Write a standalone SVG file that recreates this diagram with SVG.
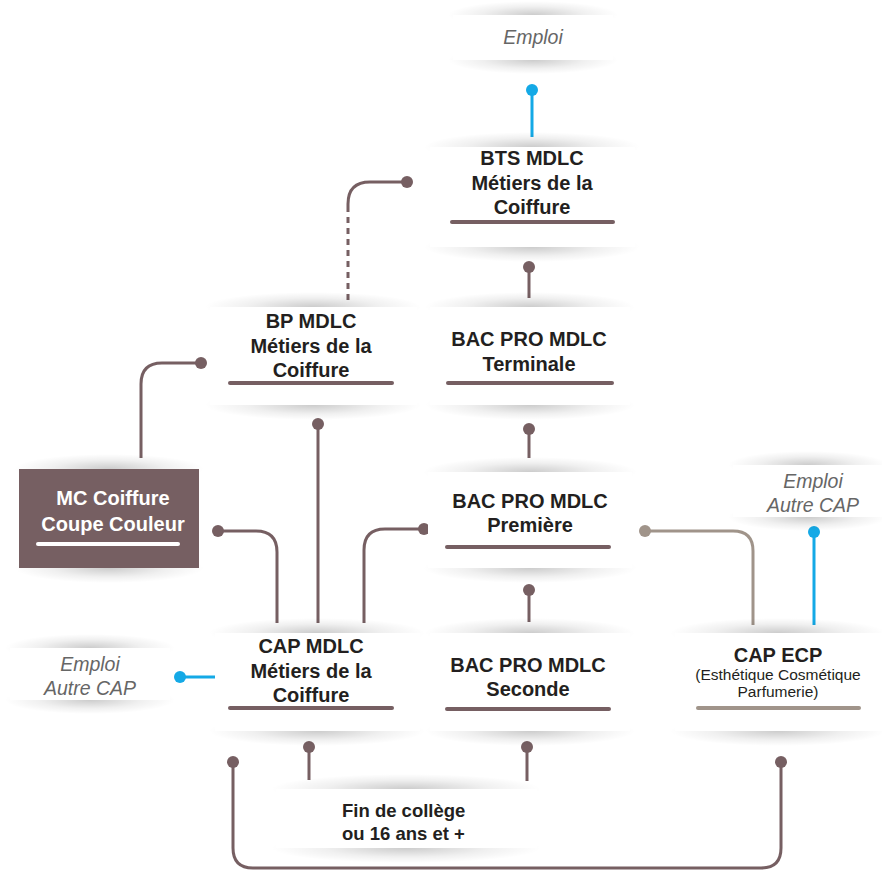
<svg xmlns="http://www.w3.org/2000/svg" width="882" height="872" viewBox="0 0 882 872">
<defs>
<radialGradient id="sh" cx="50%" cy="50%" r="50%">
<stop offset="0" stop-color="#000" stop-opacity="0.2"/>
<stop offset="0.6" stop-color="#000" stop-opacity="0.06"/>
<stop offset="1" stop-color="#000" stop-opacity="0"/>
</radialGradient>
<style>
.card{fill:#fff}
.t{font-family:"Liberation Sans",Arial,sans-serif;font-weight:bold;font-size:20px;fill:#231f20;text-anchor:middle}
.w{fill:#fff}
.e{font-family:"Liberation Sans",Arial,sans-serif;font-style:italic;font-size:19.5px;fill:#666;text-anchor:middle}
.s{font-family:"Liberation Sans",Arial,sans-serif;font-size:15.5px;fill:#231f20;text-anchor:middle}
.ul{stroke:#765f62;stroke-width:4;stroke-linecap:round}
.c{fill:none;stroke:#765f62;stroke-width:3}
.cb{fill:none;stroke:#14a9e6;stroke-width:3}
.cg{fill:none;stroke:#a0948a;stroke-width:3}
.d{fill:#765f62}
.db{fill:#14a9e6}
.dg{fill:#a0948a}
</style>
</defs>

<g id="connectors">
<path class="cb" d="M532,90 V137"/><circle class="db" cx="532" cy="90" r="6"/>
<path class="c" d="M348,300 V207" stroke-dasharray="6,5"/>
<path class="c" d="M348,207 V204 Q348,182 370,182 H407"/><circle class="d" cx="407" cy="182" r="6"/>
<path class="c" d="M529,267 V298"/><circle class="d" cx="529" cy="267" r="6"/>
<path class="c" d="M201,363 H162 Q141,363 141,384 V458"/><circle class="d" cx="201" cy="363" r="6"/>
<path class="c" d="M318,424 V623"/><circle class="d" cx="318" cy="424" r="6"/>
<path class="c" d="M529,429 V458"/><circle class="d" cx="529" cy="429" r="6"/>
<path class="c" d="M218,531 H256 Q277,531 277,552 V623"/><circle class="d" cx="218" cy="531" r="6"/>
<path class="c" d="M424,529 H385 Q364,529 364,550 V623"/><circle class="d" cx="424" cy="529" r="6"/>
<path class="c" d="M529,590 V622"/><circle class="d" cx="529" cy="590" r="6"/>
<path class="cg" d="M645,531 H733 Q753,531 753,551 V625"/><circle class="dg" cx="645" cy="531" r="6"/>
<path class="cb" d="M814,532 V625"/><circle class="db" cx="814" cy="532" r="6"/>
<path class="cb" d="M180,677 H215"/><circle class="db" cx="180" cy="677" r="6"/>
<path class="c" d="M309,747 V780"/><circle class="d" cx="309" cy="747" r="6"/>
<path class="c" d="M527,747 V781"/><circle class="d" cx="527" cy="747" r="6"/>
<path class="c" d="M233,762 V848 Q233,868 253,868 H761 Q781,868 781,848 V762"/>
<circle class="d" cx="233" cy="762" r="6"/><circle class="d" cx="781" cy="762" r="6"/>
</g>

<g id="emploi-top">
<ellipse cx="533" cy="15" rx="85" ry="14" fill="url(#sh)"/><ellipse cx="533" cy="60" rx="85" ry="14" fill="url(#sh)"/>
<rect class="card" x="453" y="15" width="160" height="45"/>
<text class="e" x="533" y="44">Emploi</text>
</g>

<g id="bts">
<ellipse cx="532" cy="147" rx="108" ry="15" fill="url(#sh)"/><ellipse cx="532" cy="247" rx="108" ry="15" fill="url(#sh)"/>
<rect class="card" x="430" y="147" width="205" height="100"/>
<text class="t" x="532" y="165">BTS MDLC</text>
<text class="t" x="532" y="189.5">Métiers de la</text>
<text class="t" x="532" y="214">Coiffure</text>
<line class="ul" x1="452" y1="222" x2="613" y2="222"/>
</g>

<g id="bp">
<ellipse cx="313" cy="307" rx="108" ry="15" fill="url(#sh)"/><ellipse cx="313" cy="405" rx="108" ry="15" fill="url(#sh)"/>
<rect class="card" x="210" y="307" width="207" height="98"/>
<text class="t" x="311" y="328">BP MDLC</text>
<text class="t" x="311" y="352.5">Métiers de la</text>
<text class="t" x="311" y="377">Coiffure</text>
<line class="ul" x1="230" y1="383" x2="392" y2="383"/>
</g>

<g id="bac-terminale">
<ellipse cx="530" cy="307" rx="105" ry="15" fill="url(#sh)"/><ellipse cx="530" cy="405" rx="105" ry="15" fill="url(#sh)"/>
<rect class="card" x="430" y="307" width="200" height="98"/>
<text class="t" x="529" y="346">BAC PRO MDLC</text>
<text class="t" x="529" y="371">Terminale</text>
<line class="ul" x1="448" y1="383" x2="612" y2="383"/>
</g>

<g id="mc">
<ellipse cx="109" cy="469" rx="95" ry="15" fill="url(#sh)"/><ellipse cx="109" cy="568" rx="95" ry="15" fill="url(#sh)"/>
<rect x="19" y="469" width="180" height="99" fill="#765f62"/>
<text class="t w" x="113" y="505">MC Coiffure</text>
<text class="t w" x="113" y="531">Coupe Couleur</text>
<line x1="38" y1="544" x2="178" y2="544" stroke="#fff" stroke-width="4" stroke-linecap="round"/>
</g>

<g id="bac-premiere">
<ellipse cx="530" cy="472" rx="107" ry="15" fill="url(#sh)"/><ellipse cx="530" cy="568" rx="107" ry="15" fill="url(#sh)"/>
<rect class="card" x="428" y="472" width="204" height="96"/>
<text class="t" x="530" y="508">BAC PRO MDLC</text>
<text class="t" x="530" y="532">Première</text>
<line class="ul" x1="447" y1="547" x2="609" y2="547"/>
</g>

<g id="emploi-right">
<ellipse cx="808" cy="465" rx="80" ry="14" fill="url(#sh)"/><ellipse cx="808" cy="517" rx="80" ry="14" fill="url(#sh)"/>
<rect class="card" x="733" y="465" width="149" height="52"/>
<text class="e" x="813" y="488">Emploi</text>
<text class="e" x="813" y="512">Autre CAP</text>
</g>

<g id="emploi-left">
<ellipse cx="90" cy="648" rx="85" ry="14" fill="url(#sh)"/><ellipse cx="90" cy="700" rx="85" ry="14" fill="url(#sh)"/>
<rect class="card" x="10" y="648" width="160" height="52"/>
<text class="e" x="90" y="671">Emploi</text>
<text class="e" x="90" y="695">Autre CAP</text>
</g>

<g id="cap-mdlc">
<ellipse cx="317" cy="633" rx="108" ry="15" fill="url(#sh)"/><ellipse cx="317" cy="731" rx="108" ry="15" fill="url(#sh)"/>
<rect class="card" x="215" y="633" width="205" height="98"/>
<text class="t" x="311" y="653">CAP MDLC</text>
<text class="t" x="311" y="677.5">Métiers de la</text>
<text class="t" x="311" y="702">Coiffure</text>
<line class="ul" x1="230" y1="708" x2="392" y2="708"/>
</g>

<g id="bac-seconde">
<ellipse cx="530" cy="633" rx="105" ry="15" fill="url(#sh)"/><ellipse cx="530" cy="731" rx="105" ry="15" fill="url(#sh)"/>
<rect class="card" x="430" y="633" width="200" height="98"/>
<text class="t" x="528" y="672">BAC PRO MDLC</text>
<text class="t" x="528" y="696">Seconde</text>
<line class="ul" x1="447" y1="709" x2="609" y2="709"/>
</g>

<g id="cap-ecp">
<ellipse cx="778" cy="633" rx="108" ry="15" fill="url(#sh)"/><ellipse cx="778" cy="731" rx="108" ry="15" fill="url(#sh)"/>
<rect class="card" x="675" y="633" width="207" height="98"/>
<text class="t" x="778" y="662">CAP ECP</text>
<text class="s" x="778" y="680">(Esthétique Cosmétique</text>
<text class="s" x="778" y="697">Parfumerie)</text>
<line x1="698" y1="708" x2="859" y2="708" stroke="#a0948a" stroke-width="4" stroke-linecap="round"/>
</g>

<g id="fin-college">
<ellipse cx="406" cy="789" rx="135" ry="15" fill="url(#sh)"/><ellipse cx="406" cy="848" rx="135" ry="15" fill="url(#sh)"/>
<rect class="card" x="276" y="789" width="261" height="59"/>
<text class="t" x="342" y="817" style="text-anchor:start;font-size:18.5px">Fin de collège</text>
<text class="t" x="342" y="840" style="text-anchor:start;font-size:18.5px">ou 16 ans et +</text>
</g>
</svg>
